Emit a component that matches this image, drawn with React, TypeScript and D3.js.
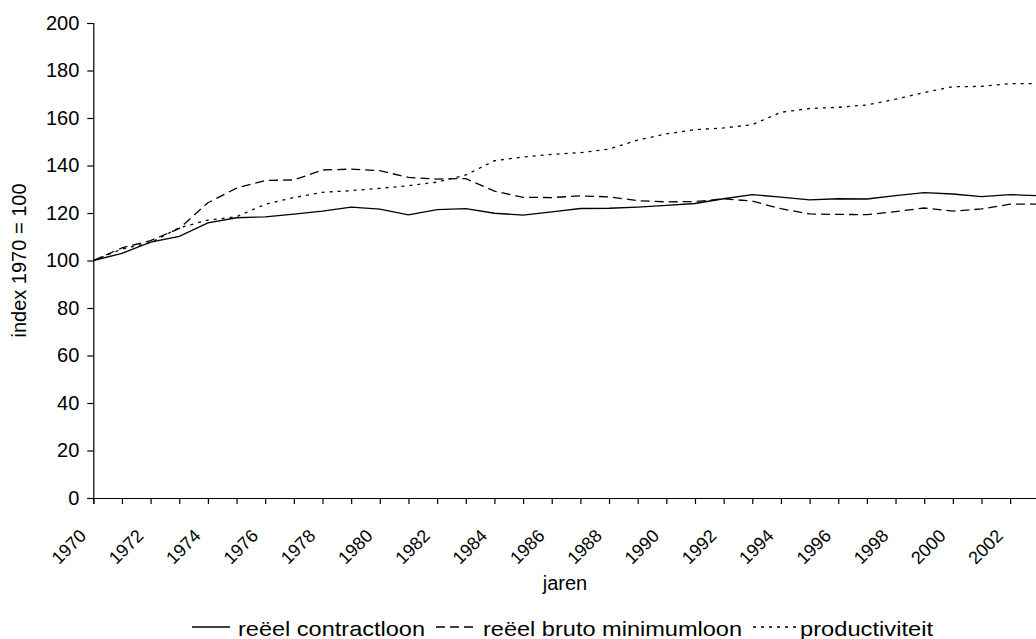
import { useEffect, useRef } from "react";
import * as d3 from "d3";

const years = d3.range(1970, 2004);

const contractloon = [
  100, 103, 107.7, 110.2, 115.8, 118, 118.4, 119.5, 120.8, 122.5, 121.6, 119.2,
  121.4, 121.8, 119.9, 119.1, 120.5, 121.9, 122, 122.5, 123.2, 124, 126, 127.7,
  126.7, 125.5, 126, 125.9, 127.3, 128.6, 128, 126.9, 127.7, 127.3,
];
const minimumloon = [
  100, 105.3, 108.4, 113.5, 124.3, 130.5, 133.7, 133.9, 138.1, 138.5, 137.8, 135,
  134.3, 134.5, 129.2, 126.6, 126.5, 127.2, 126.8, 125.2, 124.7, 124.8, 126, 125,
  121.8, 119.6, 119.4, 119.3, 120.6, 122.1, 120.8, 121.7, 123.7, 123.7,
];
const productiviteit = [
  100, 104.8, 107.5, 113.8, 117, 118.4, 123.7, 126.5, 128.7, 129.4, 130.4, 131.5,
  133, 136, 142, 143.6, 144.7, 145.4, 146.9, 150.7, 153.3, 155.1, 155.8, 157.2,
  162.4, 164, 164.5, 165.5, 167.9, 170.7, 173.2, 173.3, 174.5, 174.5,
];

const yTicks = [0, 20, 40, 60, 80, 100, 120, 140, 160, 180, 200];
const xLabelYears = d3.range(1970, 2004, 2);

const seriesNames = ["reëel contractloon", "reëel bruto minimumloon", "productiviteit"];
const seriesValues = [contractloon, minimumloon, productiviteit];
const dashes = ["none", "9,5", "3,5"];

const W = 1036;
const H = 639;
const FONT = "'Liberation Sans', Arial, sans-serif";

export default function App() {
  const svgRef = useRef<SVGSVGElement>(null);

  useEffect(() => {
    if (!svgRef.current) return;
    const svg = d3.select(svgRef.current);
    svg.selectAll("*").remove();

    // plot area runs past the right edge, like the cropped original
    const x = d3.scaleLinear().domain([1970, 2003]).range([93.3, 1038.8]);
    const y = d3.scaleLinear().domain([0, 200]).range([498, 23]);

    // y axis
    const yAxis = svg.append("g").attr("transform", `translate(${x(1970)},0)`)
      .call(d3.axisLeft(y).tickValues(yTicks).tickSize(6).tickPadding(8));
    yAxis.select(".domain").attr("stroke", "#000").attr("stroke-width", 1.2);
    yAxis.selectAll("line").attr("stroke", "#000").attr("stroke-width", 1.2);
    yAxis.selectAll("text")
      .attr("font-family", FONT).attr("font-size", 20).attr("fill", "#000");

    // x axis: tick each year, label every other year
    const xAxis = svg.append("g").attr("transform", `translate(0,${y(0)})`)
      .call(d3.axisBottom(x).tickValues(years).tickSize(6).tickFormat(() => ""));
    xAxis.select(".domain").attr("stroke", "#000").attr("stroke-width", 1.2);
    xAxis.selectAll("line").attr("stroke", "#000").attr("stroke-width", 1.2);

    svg.append("g")
      .selectAll("text")
      .data(xLabelYears)
      .enter()
      .append("text")
      .attr("transform", (d) => `translate(${x(d) - 6},${y(0) + 39}) rotate(-45)`)
      .attr("text-anchor", "end")
      .attr("font-family", FONT)
      .attr("font-size", 18)
      .text((d) => String(d));

    // axis titles
    svg.append("text")
      .attr("transform", `translate(26,${y(100)}) rotate(-90)`)
      .attr("text-anchor", "middle")
      .attr("font-family", FONT)
      .attr("font-size", 20)
      .text("index 1970 = 100");

    svg.append("text")
      .attr("x", 565)
      .attr("y", 590)
      .attr("text-anchor", "middle")
      .attr("font-family", FONT)
      .attr("font-size", 20)
      .text("jaren");

    // lines
    const line = d3.line<number>()
      .x((_, i) => x(years[i]))
      .y((d) => y(d));

    seriesValues.forEach((vals, i) => {
      svg.append("path")
        .datum(vals)
        .attr("d", line)
        .attr("fill", "none")
        .attr("stroke", "#000")
        .attr("stroke-width", 1.3)
        .attr("stroke-dasharray", dashes[i]);
    });

    // legend
    const legendY = 627;
    const legendItems = [
      { x0: 192, x1: 230, tx: 238, tw: 187 },
      { x0: 436, x1: 473, tx: 483, tw: 259 },
      { x0: 753, x1: 797, tx: 800, tw: 133 },
    ];
    legendItems.forEach((it, i) => {
      svg.append("line")
        .attr("x1", it.x0).attr("x2", it.x1)
        .attr("y1", legendY).attr("y2", legendY)
        .attr("stroke", "#000")
        .attr("stroke-width", 1.3)
        .attr("stroke-dasharray", dashes[i]);
      svg.append("text")
        .attr("x", it.tx)
        .attr("y", 636)
        .attr("font-family", FONT)
        .attr("font-size", 21)
        .attr("textLength", it.tw)
        .attr("lengthAdjust", "spacingAndGlyphs")
        .text(seriesNames[i]);
    });
  }, []);

  return (
    <div style={{ position: "absolute", left: 0, top: 0 }}>
      <svg ref={svgRef} width={W} height={H} style={{ display: "block", background: "#fff" }} />
    </div>
  );
}
